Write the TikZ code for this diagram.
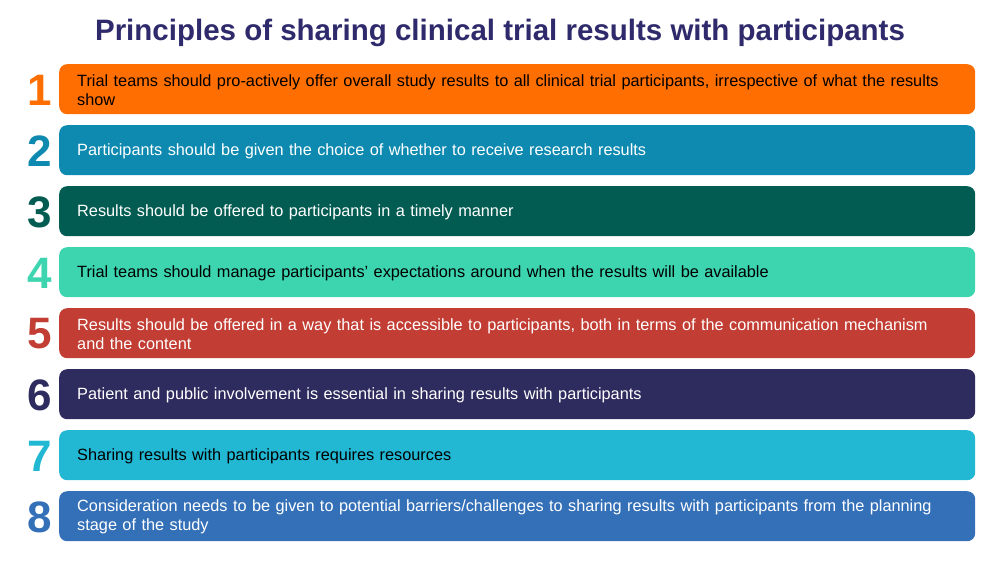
\documentclass[tikz,border=0pt]{standalone}
\usepackage{fontspec}
\setmainfont{Liberation Sans}
\definecolor{c1}{HTML}{FF6E00}
\definecolor{c2}{HTML}{0E8AB0}
\definecolor{c3}{HTML}{035C52}
\definecolor{c4}{HTML}{3CD5B0}
\definecolor{c5}{HTML}{C23D33}
\definecolor{c6}{HTML}{2E2B5E}
\definecolor{c7}{HTML}{22B8D4}
\definecolor{c8}{HTML}{3470B8}
\definecolor{ttl}{HTML}{2E2A6B}
\tikzset{
 bar/.style={fill=#1, rounded corners=8pt, minimum width=916pt, minimum height=50pt, anchor=north west, inner sep=0pt},
 num/.style={text=#1, font=\fontsize{44}{44}\selectfont\bfseries, anchor=center},
 txt/.style={text=#1, font=\fontsize{16.3}{19.5}\selectfont, anchor=west, align=left, text width=872pt, inner sep=0pt}
}
\begin{document}
\begin{tikzpicture}[x=1pt,y=-1pt]
\useasboundingbox (0,0) rectangle (1000,563);
\node[text=ttl, font=\fontsize{29.5}{32}\selectfont\bfseries] (title) at (500,33) {Principles of sharing clinical trial results with participants};
\foreach \i/\c/\tc/\t in {
 1/c1/black/{Trial teams should pro-actively offer overall study results to all clinical trial participants, irrespective of what the results show},
 2/c2/white/{Participants should be given the choice of whether to receive research results},
 3/c3/white/{Results should be offered to participants in a timely manner},
 4/c4/black/{Trial teams should manage participants’ expectations around when the results will be available},
 5/c5/white/{Results should be offered in a way that is accessible to participants, both in terms of the communication mechanism and the content},
 6/c6/white/{Patient and public involvement is essential in sharing results with participants},
 7/c7/black/{Sharing results with participants requires resources},
 8/c8/white/{Consideration needs to be given to potential barriers/challenges to sharing results with participants from the planning stage of the study}}{
  \pgfmathsetmacro{\top}{64+61*(\i-1)}
  \node[bar=\c] (b\i) at (59,\top) {};
  \node[num=\c] (n\i) at (40,\top+26) {\i};
  \node[txt=\tc] (t\i) at (77,\top+26) {\raggedright\t};
}
\end{tikzpicture}
\end{document}
